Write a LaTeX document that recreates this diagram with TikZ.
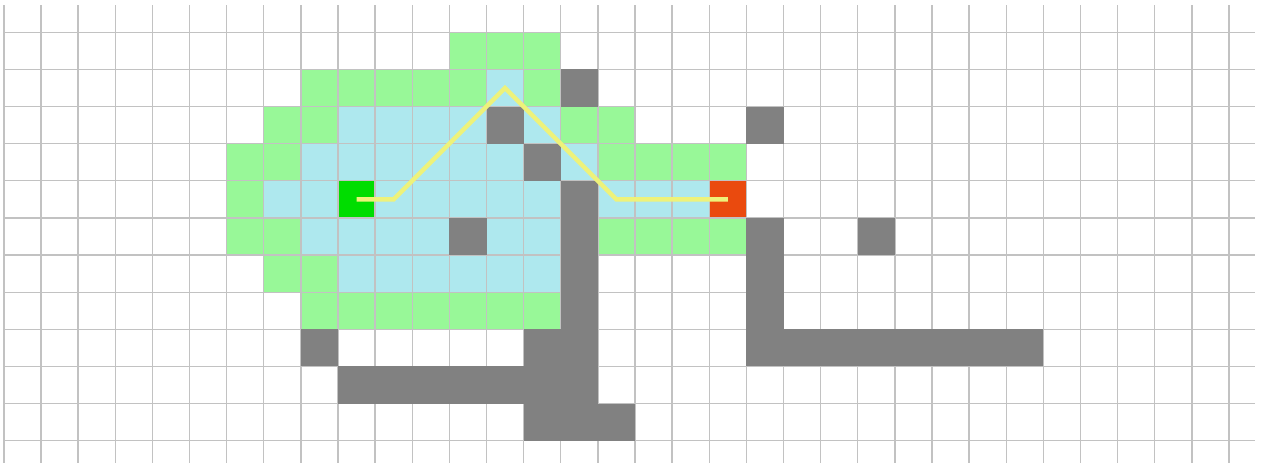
\documentclass[tikz,border=0pt]{standalone}
\usepackage{xcolor}
\usepackage{tikz}
\usetikzlibrary{positioning, calc}
\definecolor{gridgray}{HTML}{C2C2C2}
\definecolor{opengreen}{HTML}{98F898}
\definecolor{closedblue}{HTML}{AEE8EE}
\definecolor{wallgray}{HTML}{818181}
\definecolor{startgreen}{HTML}{00DD00}
\definecolor{goalred}{HTML}{EA4A0E}
\definecolor{pathyellow}{HTML}{EEF27A}

\begin{document}
\begin{tikzpicture}[
  x=1cm, y=-1cm,
  opencell/.style={fill=opengreen},
  closedcell/.style={fill=closedblue},
  wallcell/.style={fill=wallgray},
  endcell/.style={rectangle, minimum size=1cm, inner sep=0pt, outer sep=0pt},
  gridline/.style={draw=gridgray, line width=1pt},
  route/.style={draw=pathyellow, line width=3.4pt, line join=miter}
]
\useasboundingbox (-0.105,0.13) rectangle (33.97,12.60);
\clip (-0.105,0.13) rectangle (33.97,12.60);

% Open list
\foreach \r/\cl in {1/{12,13,14}, 2/{8,9,10,11,12,14}, 3/{7,8,15,16},
                    4/{6,7,16,17,18,19}, 5/{6}, 6/{6,7,16,17,18,19},
                    7/{7,8}, 8/{8,...,14}}
  \foreach \c in \cl {\fill[opencell] (\c,\r) rectangle ++(1,1);}
% Closed list
\foreach \r/\cl in {2/{13}, 3/{9,10,11,12,14}, 4/{8,...,13,15},
                    5/{7,8,10,11,12,13,14,16,17,18}, 6/{8,9,10,11,13,14},
                    7/{9,...,14}}
  \foreach \c in \cl {\fill[closedcell] (\c,\r) rectangle ++(1,1);}

% Start and goal
\node[endcell, fill=startgreen] (start) at (9.5,5.5) {};
\node[endcell, fill=goalred] (goal) at (19.5,5.5) {};

% Grid
\foreach \c in {0,...,33} \draw[gridline] (\c,0.265) -- (\c,12.6);
\foreach \r in {1,...,12} \draw[gridline] (0,\r) -- (33.7,\r);

% Walls
\foreach \r/\cl in {2/{15}, 3/{13,20}, 4/{14}, 5/{15}, 6/{12,15,20,23},
                    7/{15,20}, 8/{15,20}, 9/{8,14,15,20,21,22,23,24,25,26,27},
                    10/{9,...,15}, 11/{14,15,16}}
  \foreach \c in \cl {\fill[wallcell] (\c,\r) rectangle ++(1,1);}

% Path
\coordinate (p1) at (10.5,5.5);
\coordinate (p2) at (13.5,2.5);
\coordinate (p3) at (16.5,5.5);
\draw[route] (start.center) -- (p1) -- (p2) -- (p3) -- (goal.center);
\end{tikzpicture}
\end{document}
